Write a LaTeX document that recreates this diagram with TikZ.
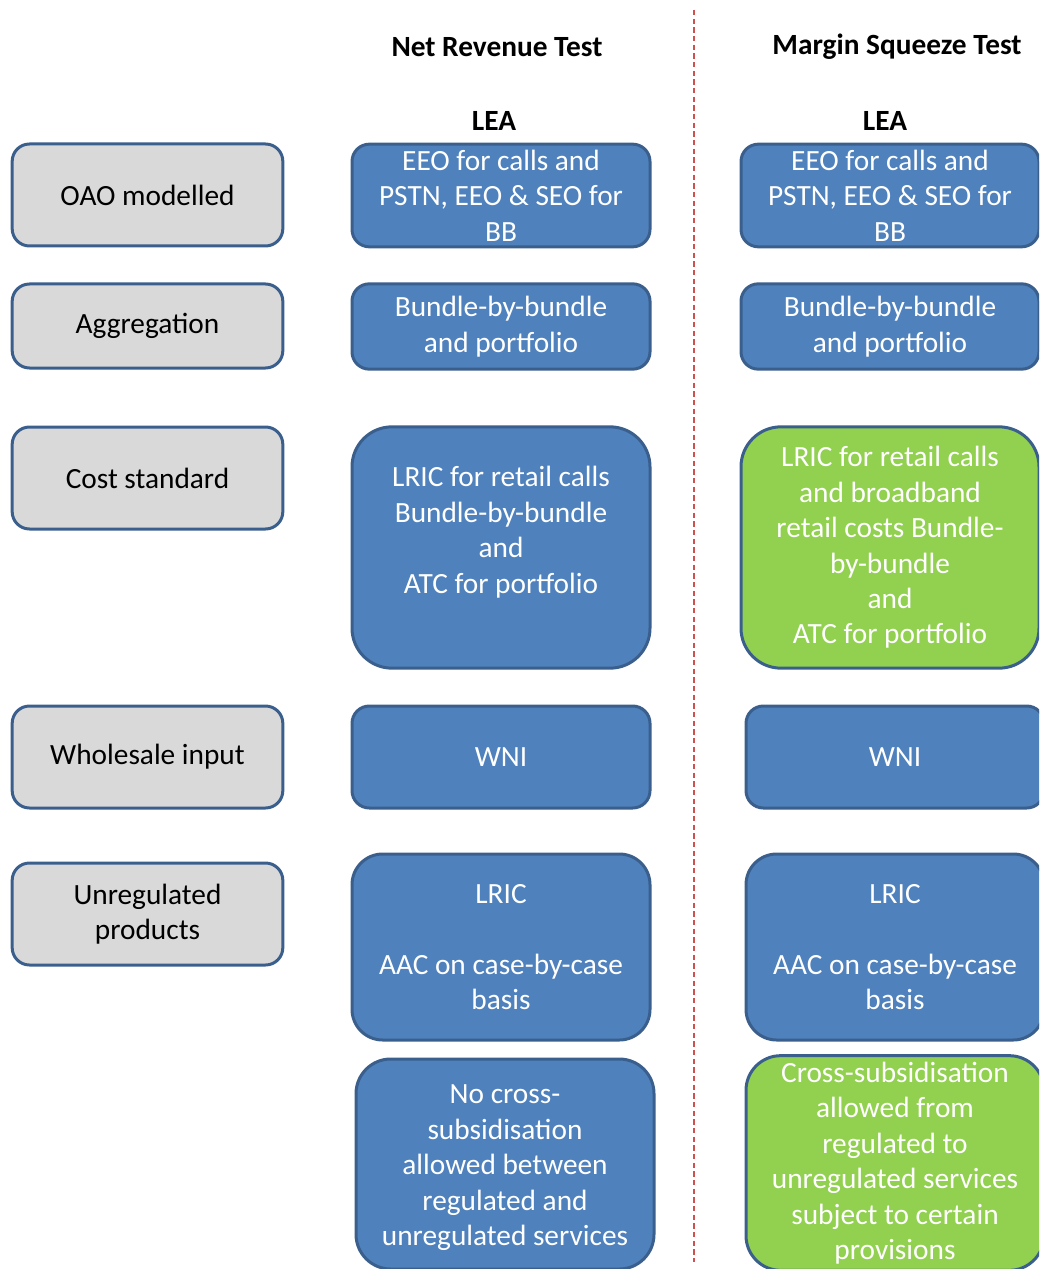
\documentclass[tikz,border=0pt]{standalone}
\usepackage{fontspec}
\setmainfont{Carlito}
\usetikzlibrary{positioning}

\definecolor{boxblue}{HTML}{4F81BD}
\definecolor{boxline}{HTML}{3A5F8C}
\definecolor{boxgrey}{HTML}{D9D9D9}
\definecolor{boxgreen}{HTML}{92D050}
\definecolor{divred}{HTML}{D0504D}

\tikzset{
  box/.style={draw=boxline, line width=2.25pt, rounded corners=13pt, align=center,
    inner sep=0pt, font=\fontsize{22}{26.6}\selectfont},
  rowlabel/.style={box, fill=boxgrey, text=black, minimum width=203pt, minimum height=76.5pt},
  bluebox/.style={box, fill=boxblue, text=white, minimum width=223.5pt},
  greenbox/.style={box, fill=boxgreen, text=white, minimum width=223.5pt},
  heading/.style={font=\fontsize{22}{26.6}\selectfont\bfseries}
}

\begin{document}
\begin{tikzpicture}[x=0.75pt,y=-0.75pt]
    \useasboundingbox (0,0) rectangle (1039,1269);
    \clip (0,0) rectangle (1039,1269);

    % headings
    \node[heading] (nrt) at (497,47) {Net Revenue Test};
    \node[heading] (mst) at (897,47) {Margin Squeeze Test};
    \node[heading] (lea1) at (494,121) {LEA};
    \node[heading] (lea2) at (885,121) {LEA};

    % divider
    \coordinate (divtop) at (694,10);
    \coordinate (divbot) at (694,1262);
    \draw[divred, line width=0.9pt, dash pattern=on 4pt off 2.5pt] (divtop) -- (divbot);

    % row labels
    \node[rowlabel] (oao) at (147.5,195) {OAO modelled};
    \node[rowlabel, minimum height=63pt] (aggr) at (147.5,326) {Aggregation\vphantom{O}};
    \node[rowlabel] (cost) at (147.5,478) {Cost standard};
    \node[rowlabel] (whole) at (147.5,757) {Wholesale input};
    \node[rowlabel] (unreg) at (147.5,914) {Unregulated\\products};

    % net revenue test
    \node[bluebox, minimum height=77pt] (nrtoao) at (501,195.5)
        {EEO for calls and\\PSTN, EEO \& SEO for\\BB};
    \node[bluebox, minimum height=64pt] (nrtaggr) at (501,326.5)
        {Bundle-by-bundle\\and portfolio};
    \node[bluebox, minimum height=181pt, rounded corners=30pt] (nrtcost) at (501,547.5)
        {LRIC for retail calls\\Bundle-by-bundle\\and\\ATC for portfolio\\\mbox{}};
    \node[bluebox, minimum height=76.5pt] (nrtwhole) at (501,757) {WNI};
    \node[bluebox, minimum height=139.5pt, rounded corners=23pt] (nrtunreg) at (501,947)
        {LRIC\\\mbox{}\\AAC on case-by-case\\basis};
    \node[bluebox, minimum height=157.5pt, rounded corners=26pt] (nrtcross) at (505,1164)
        {\\[-7pt]No cross-\\subsidisation\\allowed between\\regulated and\\unregulated services};

    % margin squeeze test
    \node[bluebox, minimum height=77pt] (mstoao) at (890,195.5)
        {EEO for calls and\\PSTN, EEO \& SEO for\\BB};
    \node[bluebox, minimum height=64pt] (mstaggr) at (890,326.5)
        {Bundle-by-bundle\\and portfolio};
    \node[greenbox, minimum height=181pt, rounded corners=30pt] (mstcost) at (890,547.5)
        {LRIC for retail calls\\and broadband\\retail costs Bundle-\\by-bundle\\and\\ATC for portfolio};
    \node[bluebox, minimum height=76.5pt] (mstwhole) at (895,757) {WNI};
    \node[bluebox, minimum height=139.5pt, rounded corners=23pt] (mstunreg) at (895,947)
        {LRIC\\\mbox{}\\AAC on case-by-case\\basis};
    \node[greenbox, minimum height=161pt, rounded corners=26pt] (mstcross) at (895,1163)
        {Cross-subsidisation\\allowed from\\regulated to\\unregulated services\\subject to certain\\provisions};
\end{tikzpicture}
\end{document}
